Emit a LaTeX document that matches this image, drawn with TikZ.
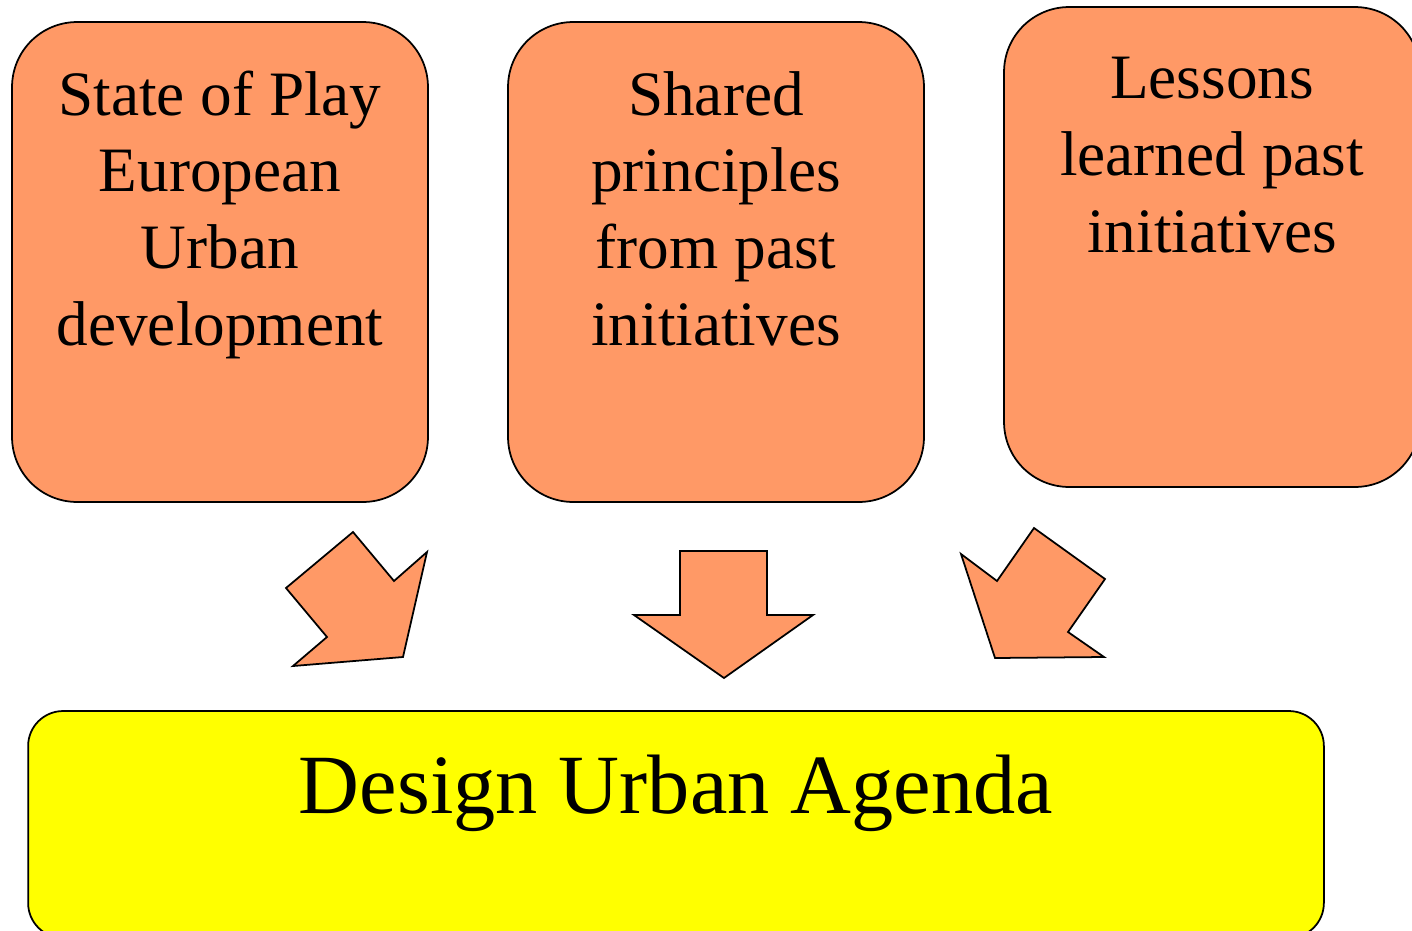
\documentclass[tikz,border=0pt]{standalone}
\usepackage{fontspec}
\setmainfont{Liberation Serif}
\definecolor{boxorange}{HTML}{FF9966}
\definecolor{agendayellow}{HTML}{FFFF00}
\tikzset{
  panel/.style={draw=black, line width=1pt, fill=boxorange, rounded corners=1.3cm,
    minimum width=8.32cm, minimum height=9.6cm, inner sep=0pt},
  paneltext/.style={anchor=base, align=center, inner sep=0pt,
    font=\fontsize{36}{43.6}\selectfont},
  agenda/.style={draw=black, line width=1pt, fill=agendayellow, rounded corners=0.7cm,
    minimum width=25.92cm, minimum height=4.54cm, inner sep=0pt},
  fatarrow/.style={draw=black, line width=1pt, fill=boxorange, line join=miter}
}
\begin{document}
\begin{tikzpicture}[x=0.02cm, y=-0.02cm]
\path[use as bounding box, clip] (0,0) rectangle (1412,930);

% the three input boxes
\node[panel] (play) at (220,262) {};
\node[panel] (shared) at (716,262) {};
\node[panel] (lessons) at (1212,247) {};
% base anchor sits on the last line
\node[paneltext] (playtext) at (220,345) {State of Play\\European\\Urban\\development};
\node[paneltext] (sharedtext) at (716,345) {Shared\\principles\\from past\\initiatives};
\node[paneltext] (lessonstext) at (1212,252) {Lessons\\learned past\\initiatives};

% block arrows
\draw[fatarrow] (353,532) -- (394,581) -- (427,552) -- (403,657) -- (293,666) -- (327,637) -- (286,588) -- cycle;
\draw[fatarrow] (680,551) -- (767,551) -- (767,615) -- (813,615) -- (724,678) -- (634,615) -- (680,615) -- cycle;
\draw[fatarrow] (1034,528) -- (1105,579) -- (1068,632) -- (1104,657) -- (995,658) -- (961,554) -- (997,581) -- cycle;

% result
\node[agenda] (urbanagenda) at (676,824.5) {};
\node[anchor=base, inner sep=0pt, font=\fontsize{48}{58}\selectfont] (agendatext) at (676,813) {Design Urban Agenda};
\end{tikzpicture}
\end{document}
